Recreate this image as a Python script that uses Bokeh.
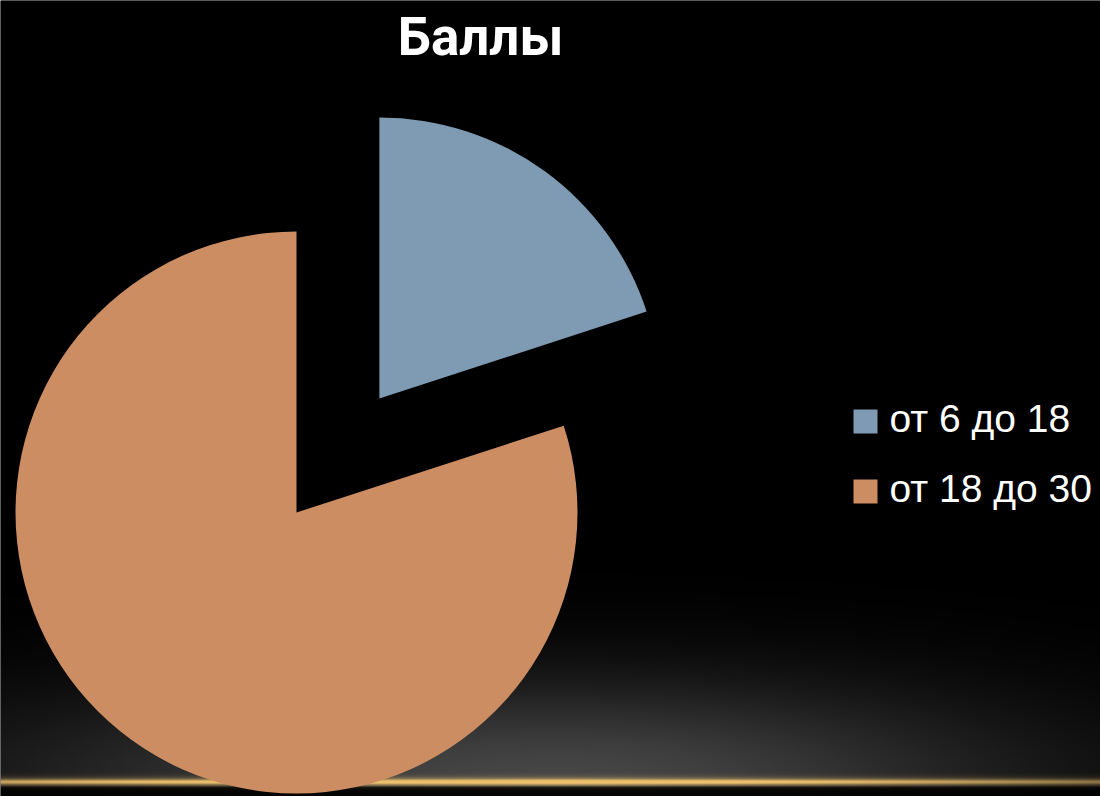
import numpy as np
from bokeh.plotting import figure
from bokeh.models import Range1d, ColumnDataSource
from bokeh.core.properties import value
from bokeh.embed import file_html
from bokeh.resources import INLINE

# ---------------- data ----------------
title_text = "Баллы"
categories = ["от 6 до 18", "от 18 до 30"]
values = [20, 80]
colors = ["#7F9AB3", "#CC8D62"]
explode = [141, 0]          # pixel offset of each slice along its bisector

# ---------------- layout (page pixels -> data: x = px, y = 796 - py) ----------------
W, H = 1100, 796
def Y(py):
    return 796 - py

p = figure(width=W, height=H, x_range=Range1d(0, W), y_range=Range1d(796 - H, 796),
           output_backend="svg", toolbar_location=None, min_border=0)
p.axis.visible = False
p.grid.visible = False
p.outline_line_color = None
p.background_fill_color = "black"
p.border_fill_color = "black"

# ---------------- background: glow + golden line ----------------
nx, ny = 275, H
px = np.linspace(0, W, nx)
py_rows = H - (np.arange(ny) + 0.5)      # row 0 = bottom of plot (page y = H)
PX, PY = np.meshgrid(px, py_rows)
sx = np.where(PX > 560, 470.0, 580.0)
dx = (PX - 560) / sx
dy = (779 - PY) / 100.0
glow = 70 * np.exp(-(dx ** 2 + dy ** 2))
glow = np.where(PY > 786, glow * 0.08, glow)

hf = np.where(PX < 560, 1.0 - 0.4 * (560 - PX) / 560, 1.0 - 0.6 * (PX - 560) / 540)
hf = np.clip(hf, 0.2, 1)
core = np.exp(-((PY - 781.5) / 2.4) ** 2) * hf
soft = 0.45 * np.exp(-((PY - 781.0) / 5.0) ** 2) * hf
line = np.clip(core + soft, 0, 1)
gold = np.array([236, 192, 108])
r = np.clip(glow * (1 - line) + gold[0] * line, 0, 255).astype(np.uint32)
g = np.clip(glow * (1 - line) + gold[1] * line, 0, 255).astype(np.uint32)
b = np.clip(glow * (1 - line) + gold[2] * line, 0, 255).astype(np.uint32)
img = (255 << 24) | (b << 16) | (g << 8) | r
p.image_rgba(image=[img.astype(np.uint32)], x=0, y=796 - H, dw=W, dh=H)

# ---------------- pie ----------------
cx, cy, radius = 296, Y(512), 281
total = float(sum(values))
starts, ends, xs, ys = [], [], [], []
a = np.pi / 2
for v, e in zip(values, explode):
    sweep = v / total * 2 * np.pi
    a_end = a - sweep                   # clockwise
    mid = (a + a_end) / 2
    starts.append(a_end)
    ends.append(a)
    xs.append(cx + e * np.cos(mid))
    ys.append(cy + e * np.sin(mid))
    a = a_end
src = ColumnDataSource(dict(x=xs, y=ys, start=starts, end=ends, color=colors, cat=categories))
p.wedge(x="x", y="y", radius=radius, start_angle="start", end_angle="end",
        fill_color="color", line_color=None, source=src)

# ---------------- title ----------------
p.text(x=[480], y=[Y(36)], text=[title_text], text_color="white",
       text_font=value("Roboto"), text_font_style="bold",
       text_font_size="53px", text_align="center", text_baseline="middle")

# ---------------- legend ----------------
leg_y = [Y(418), Y(488)]
p.rect(x=[865] * len(categories), y=[yy - 3 for yy in leg_y], width=24, height=24,
       fill_color=colors, line_color=None)
p.text(x=[889] * len(categories), y=leg_y, text=categories, text_color="white",
       text_font=value("Liberation Sans"), text_font_size="39px",
       text_align="left", text_baseline="middle")

open("out.html", "w").write(file_html(p, INLINE))
